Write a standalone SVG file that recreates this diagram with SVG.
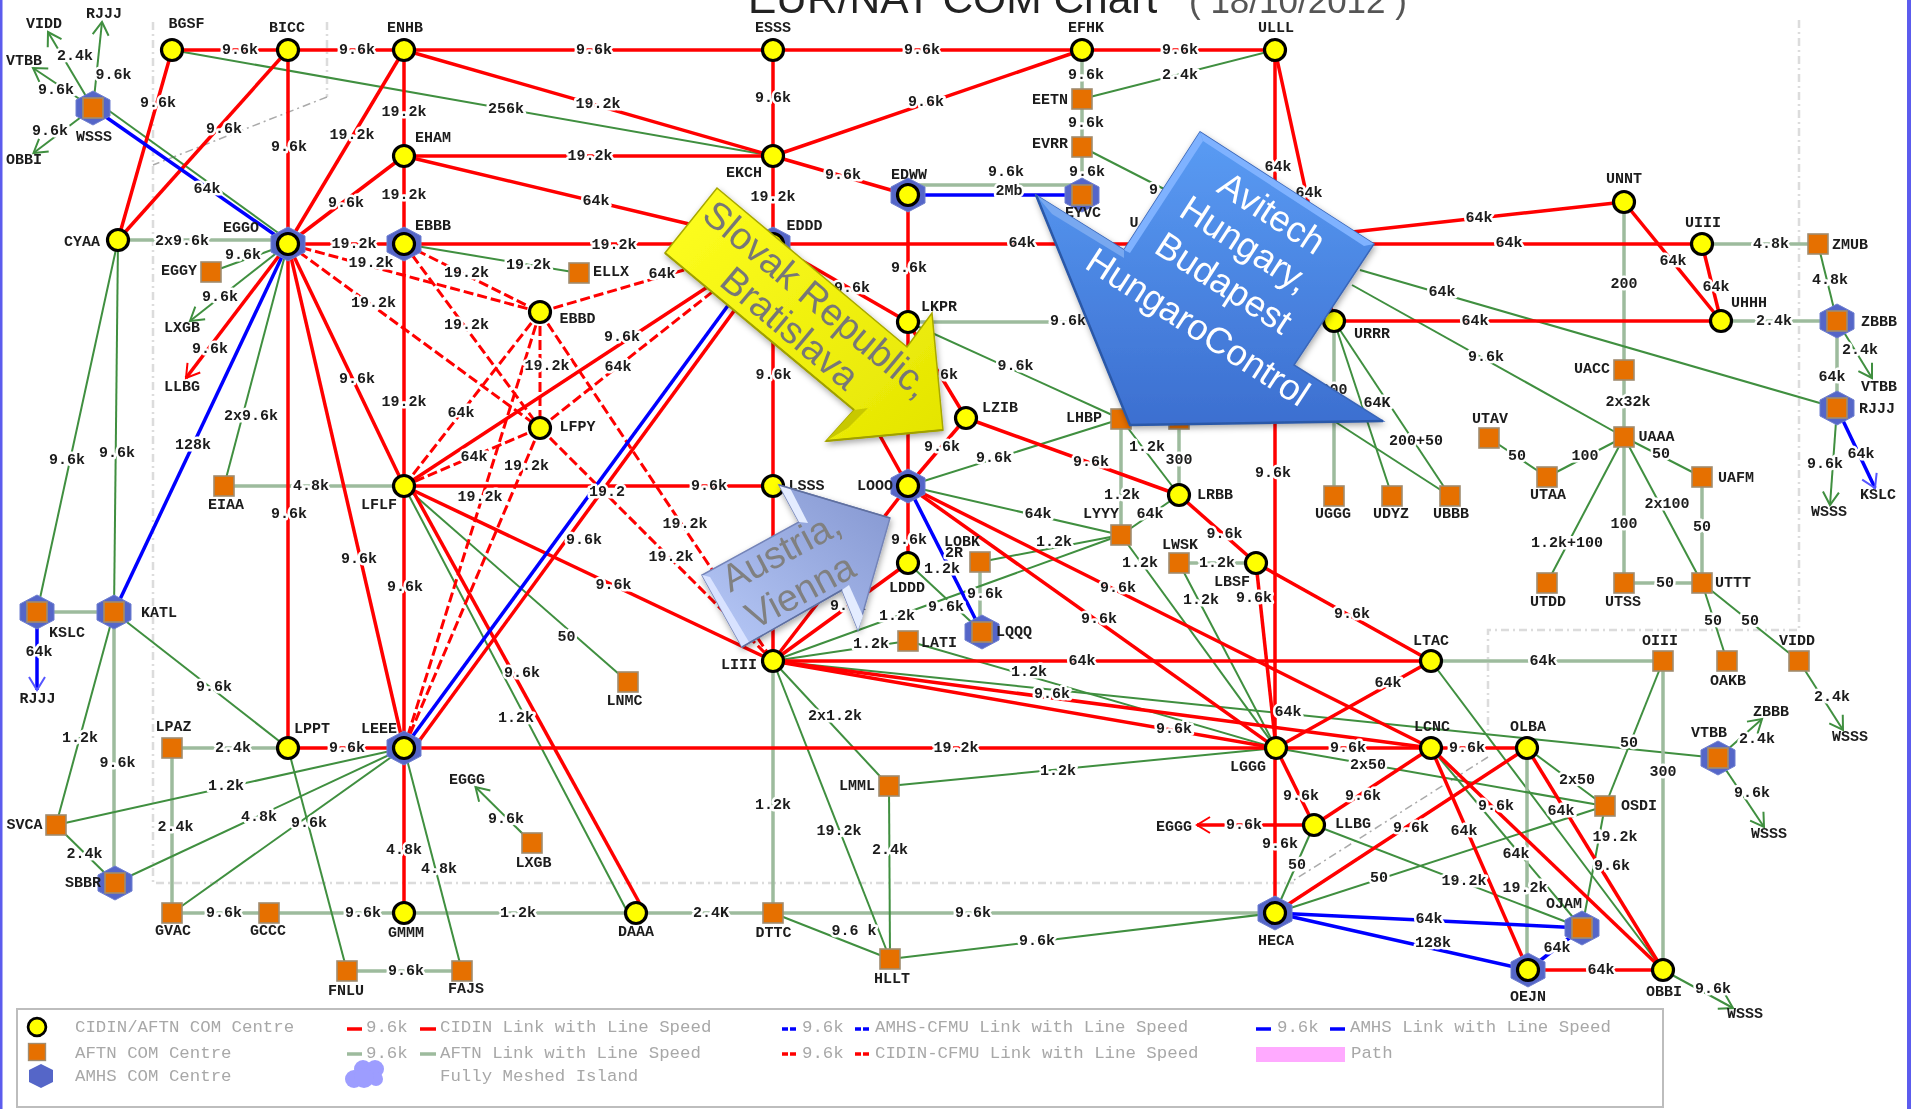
<svg xmlns="http://www.w3.org/2000/svg" width="1911" height="1109" viewBox="0 0 1911 1109">
<style>
text{font-family:"Liberation Mono","DejaVu Sans Mono",monospace}
.t,.n,.e{font-size:15px;font-weight:700;fill:#1c1c1c;text-anchor:middle;dominant-baseline:central}
.e{paint-order:stroke;stroke:#fff;stroke-width:5px;stroke-linejoin:round}
.l{font-size:17.4px;fill:#a8a8a8;dominant-baseline:central}
.r,.g,.h,.b,.d,.ar,.ag,.ab{fill:none}
.r,.ar{stroke:#f00;stroke-width:3.5}
.g,.ag{stroke:#3f8f3f;stroke-width:2}
.h{stroke:#9dbb9d;stroke-width:3.5}
.b,.ab{stroke:#00f;stroke-width:3.5}
.d{stroke:#f00;stroke-width:3;stroke-dasharray:10 4}
.ar{marker-end:url(#mr)}.ag{marker-end:url(#mg)}.ab{marker-end:url(#mb)}
.z{fill:none;stroke:#dcdcdc;stroke-width:2.5;stroke-dasharray:8 4 2 4}
.zd{fill:none;stroke:#aaa;stroke-width:1.5;stroke-dasharray:8 4 2 4}
.c{font-family:"Liberation Sans",Arial,sans-serif;font-size:38px;text-anchor:middle;dominant-baseline:central}
</style>
<defs>
<filter id="soft" filterUnits="userSpaceOnUse" x="0" y="0" width="1911" height="1109"><feGaussianBlur stdDeviation="0.55"/></filter>
<filter id="sh" x="-10%" y="-10%" width="120%" height="120%"><feDropShadow dx="1" dy="3" stdDeviation="3" flood-color="#000" flood-opacity=".35"/></filter>
<marker id="mr" markerUnits="userSpaceOnUse" markerWidth="18" markerHeight="20" refX="15" refY="10" orient="auto"><path d="M2 2L15 10L2 18" fill="none" stroke="#f00" stroke-width="2"/></marker>
<marker id="mg" markerUnits="userSpaceOnUse" markerWidth="18" markerHeight="20" refX="15" refY="10" orient="auto"><path d="M2 2L15 10L2 18" fill="none" stroke="#3f8f3f" stroke-width="2"/></marker>
<marker id="mb" markerUnits="userSpaceOnUse" markerWidth="18" markerHeight="20" refX="15" refY="10" orient="auto"><path d="M2 2L15 10L2 18" fill="none" stroke="#55f" stroke-width="2"/></marker>
<circle id="y" r="10.5" fill="#ff0" stroke="#000" stroke-width="3.2"/>
<rect id="s" x="-10" y="-10" width="20" height="20" fill="#e66f00" stroke="#a08c70" stroke-width="1.6"/>
<polygon id="x" points="0,-17 17,-8 17,8 0,17 -17,8 -17,-8" fill="#5566c8" stroke="#6f7fd0"/>
<linearGradient id="gy" x1="0" y1="0" x2="1" y2="1"><stop offset="0" stop-color="#ffff20"/><stop offset="1" stop-color="#e4e400"/></linearGradient>
<linearGradient id="gb" x1="0" y1="0" x2="0" y2="1"><stop offset="0" stop-color="#5a9cf4"/><stop offset="1" stop-color="#3c6fd0"/></linearGradient>
<linearGradient id="ga" x1="0" y1="1" x2="1" y2="0"><stop offset="0" stop-color="#b8caf8"/><stop offset="1" stop-color="#8496d0"/></linearGradient>
</defs>
<g filter="url(#soft)">
<rect width="1911" height="1109" fill="#fff"/>
<rect x="0" y="0" width="2.5" height="1109" fill="#5b5bee"/>
<rect x="1907" y="0" width="4" height="1109" fill="#5b5bee"/>
<g id="title">
<text x="748" y="13" font-size="42.500" fill="#222" style="font-family:'Liberation Sans',Arial,sans-serif">EUR/NAT COM Chart</text>
<text x="1189" y="13" font-size="35" fill="#555" style="font-family:'Liberation Sans',Arial,sans-serif">( 18/10/2012 )</text>
</g>
<g id="regions">
<path class="z" d="M153 22V883H1294M327 22V97M1799 20V630H1488V733"/>
<path class="zd" d="M327 97L153 165M1488 757L1294 880"/>
</g>
<g id="connectors">
<g id="aftn-links">
<path class="g" d="M172 50L773 156"/><path class="g" d="M108 110L288 240"/><path class="h" d="M118 240H288"/>
<path class="g" d="M288 244L211 272"/><path class="g" d="M288 244L224 486"/><path class="g" d="M118 240L114 612"/><path class="g" d="M118 240L37 612"/>
<path class="h" d="M37 612H114"/><path class="g" d="M114 612L56 825"/><path class="h" d="M114 612V883"/><path class="g" d="M114 612L288 748"/>
<path class="g" d="M404 244L579 273"/><path class="h" d="M224 486H404"/><path class="h" d="M172 748H288"/><path class="h" d="M172 748V913"/>
<path class="g" d="M56 825L404 748"/><path class="g" d="M56 825L115 883"/><path class="g" d="M115 883L404 748"/><path class="g" d="M172 913L404 748"/>
<path class="h" d="M172 913H773"/><path class="h" d="M773 913H1275"/><path class="g" d="M288 748L347 971"/><path class="g" d="M404 748L462 971"/><path class="h" d="M347 971H462"/>
<path class="g" d="M404 486L628 682"/><path class="g" d="M404 486L628 913"/>
<path class="h" d="M1082 50V195"/><path class="g" d="M1082 99L1275 50"/><path class="g" d="M1082 147L1250 233"/><path class="h" d="M908 185H1082"/>
<path class="h" d="M908 322H1150"/><path class="g" d="M908 322L1121 419"/><path class="g" d="M908 486L1121 419"/><path class="g" d="M908 486L1121 535"/>
<path class="g" d="M908 486L982 632"/><path class="g" d="M908 486L773 661"/><path class="g" d="M908 563L982 632"/><path class="h" d="M980 562V632"/>
<path class="g" d="M980 562L1121 535"/><path class="g" d="M773 661L1121 535"/><path class="h" d="M1121 419V535"/><path class="g" d="M1121 419L1179 495"/><path class="h" d="M1179 419V495"/><path class="g" d="M1179 495L1121 535"/>
<path class="g" d="M1121 535L1276 748"/><path class="g" d="M1179 563L1276 748"/><path class="h" d="M1179 563H1256"/>
<path class="g" d="M773 661L908 641"/><path class="g" d="M908 641L1276 748"/><path class="g" d="M773 661L1718 758"/><path class="h" d="M773 661V913"/><path class="g" d="M773 661L889 786"/><path class="g" d="M773 661L890 959"/>
<path class="g" d="M889 786L1276 748"/><path class="g" d="M889 786L890 959"/><path class="g" d="M773 913L890 959"/><path class="g" d="M890 959L1275 913"/>
<path class="h" d="M1624 202V437"/><path class="h" d="M1702 244H1818"/><path class="g" d="M1818 244L1837 321"/><path class="h" d="M1721 321H1837"/><path class="h" d="M1837 321V408"/>
<path class="g" d="M1360 270L1837 408"/><path class="g" d="M1352 285L1624 437"/><path class="h" d="M1334 321V496"/><path class="g" d="M1334 321L1392 496"/><path class="g" d="M1334 321L1450 496"/><path class="g" d="M1300 399L1450 496"/>
<path class="g" d="M1624 437L1547 477"/><path class="g" d="M1489 438L1547 477"/><path class="g" d="M1624 437L1702 477"/><path class="g" d="M1624 437L1547 583"/><path class="h" d="M1624 437V583"/><path class="g" d="M1624 437L1702 583"/>
<path class="h" d="M1702 477V583"/><path class="h" d="M1624 583H1702"/><path class="g" d="M1702 583L1727 661"/><path class="g" d="M1702 583L1799 661"/>
<path class="h" d="M1431 661H1663"/><path class="g" d="M1663 661L1605 806"/><path class="h" d="M1663 661V970"/><path class="g" d="M1431 661L1663 970"/>
<path class="g" d="M1431 748L1582 928"/><path class="h" d="M1527 748V970"/><path class="g" d="M1527 748L1605 806"/><path class="g" d="M1605 806L1275 913"/><path class="g" d="M1276 748L1605 806"/><path class="g" d="M1605 806L1582 928"/>
<path class="g" d="M1314 825L1275 913"/><path class="g" d="M1314 825L1582 928"/>
<path class="ag" d="M93 108L48 32"/><path class="ag" d="M93 108L102 22"/><path class="ag" d="M93 108L33 68"/><path class="ag" d="M93 108L33.500 153"/>
<path class="ag" d="M288 244L190 321"/><path class="ag" d="M532 843L475.500 787"/>
<path class="ag" d="M1837 321L1872 378"/><path class="ag" d="M1837 408L1830 505"/><path class="ag" d="M1799 661L1843 730"/><path class="ag" d="M1718 758L1762 719"/><path class="ag" d="M1718 758L1764 827"/><path class="ag" d="M1663 970L1733 1008"/>
</g>
<g id="cidin-links">
<path class="r" d="M172 50H1275"/><path class="r" d="M172 50L118 240"/><path class="r" d="M288 50L118 240"/><path class="r" d="M288 50V748"/><path class="r" d="M404 50L288 244"/><path class="r" d="M404 50V913"/>
<path class="r" d="M404 50L773 156"/><path class="r" d="M404 156H773"/><path class="r" d="M404 156L288 244"/><path class="r" d="M404 156L773 244"/><path class="r" d="M288 244H404"/><path class="r" d="M404 244H1702"/>
<path class="r" d="M1082 50L773 156"/><path class="r" d="M773 50V661"/><path class="r" d="M773 156L908 195"/><path class="r" d="M908 195V486"/><path class="r" d="M773 244L908 322"/><path class="r" d="M908 322L966 418"/>
<path class="r" d="M1275 50V913"/><path class="r" d="M1275 50L1334 321"/><path class="r" d="M1280 240L1624 202"/><path class="r" d="M1334 321H1721"/><path class="r" d="M1624 202L1721 321"/><path class="r" d="M1702 244L1721 321"/>
<path class="r" d="M288 244L404 486"/><path class="r" d="M288 244L404 748"/><path class="r" d="M404 486L773 244"/><path class="r" d="M404 486H773"/><path class="r" d="M404 486L773 661"/><path class="r" d="M408 482L645 913"/>
<path class="r" d="M414 748L783 244"/><path class="r" d="M288 748H1276"/><path class="r" d="M773 244L908 486"/><path class="r" d="M966 418L908 486"/><path class="r" d="M966 418L1179 495"/><path class="r" d="M1179 495L1256 563"/><path class="r" d="M1256 563L1431 661"/><path class="r" d="M1256 563L1276 748"/>
<path class="r" d="M908 486V563"/><path class="r" d="M908 486L773 661"/><path class="r" d="M908 563L773 661"/><path class="r" d="M908 486L1276 748"/><path class="r" d="M908 486L1431 748"/>
<path class="r" d="M773 661H1431"/><path class="r" d="M773 661L1431 748"/><path class="r" d="M773 661L1276 748"/><path class="r" d="M1276 748L1431 661"/><path class="r" d="M1276 748H1527"/><path class="r" d="M1431 748L1314 825"/><path class="r" d="M1276 748L1314 825"/>
<path class="r" d="M1527 748L1275 913"/><path class="r" d="M1431 748L1528 970"/><path class="r" d="M1431 748L1663 970"/><path class="r" d="M1527 748L1663 970"/><path class="r" d="M1528 970H1663"/>
<path class="ar" d="M288 244L186 378"/><path class="ar" d="M1314 825H1197"/>
</g>
<g id="cfmu-links">
<path class="d" d="M288 244L540 312"/><path class="d" d="M288 244L540 428"/><path class="d" d="M404 244L540 312"/><path class="d" d="M404 244L540 428"/><path class="d" d="M540 312V428"/><path class="d" d="M540 312L404 486"/><path class="d" d="M540 428L404 486"/>
<path class="d" d="M540 428L773 244"/><path class="d" d="M540 312L773 244"/><path class="d" d="M540 312L404 748"/><path class="d" d="M540 428L404 748"/><path class="d" d="M540 312L773 661"/><path class="d" d="M540 428L773 661"/>
</g>
<g id="amhs-links">
<path class="b" d="M93 108L288 244"/><path class="b" d="M288 244L114 612"/><path class="b" d="M404 748L773 244"/><path class="b" d="M908 195H1082"/><path class="b" d="M908 486L982 632"/>
<path class="b" d="M1275 913L1582 928"/><path class="b" d="M1275 913L1528 970"/><path class="b" d="M1582 928L1528 970"/>
<path class="ab" d="M1837 408L1875 488"/><path class="ab" d="M37 612V690"/>
</g>
<g id="link-labels">
<text class="e" x="240" y="50">9.6k</text><text class="e" x="357" y="50">9.6k</text><text class="e" x="594" y="50">9.6k</text><text class="e" x="922" y="50">9.6k</text><text class="e" x="1180" y="50">9.6k</text>
<text class="e" x="158" y="103">9.6k</text><text class="e" x="224" y="129">9.6k</text><text class="e" x="289" y="147">9.6k</text><text class="e" x="352" y="135">19.2k</text><text class="e" x="404" y="112">19.2k</text><text class="e" x="598" y="104">19.2k</text><text class="e" x="590" y="156">19.2k</text><text class="e" x="404" y="195">19.2k</text><text class="e" x="346" y="203">9.6k</text><text class="e" x="596" y="201">64k</text><text class="e" x="354" y="244">19.2k</text><text class="e" x="614" y="245">19.2k</text><text class="e" x="404" y="402">19.2k</text>
<text class="e" x="926" y="102">9.6k</text><text class="e" x="773" y="98">9.6k</text><text class="e" x="773" y="197">19.2k</text><text class="e" x="843" y="175">9.6k</text><text class="e" x="909" y="268">9.6k</text><text class="e" x="1022" y="243">64k</text><text class="e" x="1509" y="243">64k</text><text class="e" x="1278" y="167">64k</text><text class="e" x="1309" y="193">64k</text><text class="e" x="1479" y="218">64k</text><text class="e" x="1475" y="321">64k</text><text class="e" x="1673" y="261">64k</text><text class="e" x="1716" y="287">64k</text>
<text class="e" x="1624" y="284">200</text><text class="e" x="1628" y="402">2x32k</text><text class="e" x="1771" y="244">4.8k</text><text class="e" x="1830" y="280">4.8k</text><text class="e" x="1774" y="321">2.4k</text><text class="e" x="1832" y="377">64k</text><text class="e" x="1860" y="350">2.4k</text><text class="e" x="1825" y="464">9.6k</text><text class="e" x="1861" y="454">64k</text><text class="e" x="1442" y="292">64k</text><text class="e" x="1486" y="357">9.6k</text><text class="e" x="1334" y="390">200</text><text class="e" x="1377" y="403">64K</text><text class="e" x="1416" y="441">200+50</text>
<text class="e" x="1585" y="456">100</text><text class="e" x="1517" y="456">50</text><text class="e" x="1661" y="454">50</text><text class="e" x="1567" y="543">1.2k+100</text><text class="e" x="1624" y="524">100</text><text class="e" x="1667" y="504">2x100</text><text class="e" x="1702" y="527">50</text><text class="e" x="1665" y="583">50</text><text class="e" x="1713" y="621">50</text><text class="e" x="1750" y="621">50</text><text class="e" x="1832" y="697">2.4k</text><text class="e" x="1543" y="661">64k</text><text class="e" x="1629" y="743">50</text><text class="e" x="1663" y="772">300</text><text class="e" x="1757" y="739">2.4k</text><text class="e" x="1752" y="793">9.6k</text><text class="e" x="1561" y="811">64k</text>
<text class="e" x="1467" y="748">9.6k</text><text class="e" x="1348" y="748">9.6k</text><text class="e" x="1363" y="796">9.6k</text><text class="e" x="1301" y="796">9.6k</text><text class="e" x="1411" y="828">9.6k</text><text class="e" x="1464" y="831">64k</text><text class="e" x="1496" y="806">9.6k</text><text class="e" x="1516" y="854">64k</text><text class="e" x="1525" y="888">19.2k</text><text class="e" x="1577" y="780">2x50</text><text class="e" x="1379" y="878">50</text><text class="e" x="1368" y="765">2x50</text><text class="e" x="1615" y="837">19.2k</text><text class="e" x="1612" y="866">9.6k</text><text class="e" x="1280" y="844">9.6k</text><text class="e" x="1297" y="865">50</text><text class="e" x="1464" y="881">19.2k</text><text class="e" x="1244" y="825">9.6k</text>
<text class="e" x="1429" y="919">64k</text><text class="e" x="1433" y="943">128k</text><text class="e" x="1557" y="948">64k</text><text class="e" x="1601" y="970">64k</text><text class="e" x="1713" y="989">9.6k</text><text class="e" x="1388" y="683">64k</text><text class="e" x="1288" y="712">64k</text><text class="e" x="1352" y="614">9.6k</text><text class="e" x="1273" y="473">9.6k</text>
<text class="e" x="711" y="913">2.4K</text><text class="e" x="973" y="913">9.6k</text><text class="e" x="854" y="931">9.6 k</text><text class="e" x="1037" y="941">9.6k</text><text class="e" x="890" y="850">2.4k</text><text class="e" x="1058" y="771">1.2k</text><text class="e" x="839" y="831">19.2k</text><text class="e" x="835" y="716">2x1.2k</text><text class="e" x="773" y="805">1.2k</text><text class="e" x="956" y="748">19.2k</text>
<text class="e" x="347" y="748">9.6k</text><text class="e" x="233" y="748">2.4k</text><text class="e" x="309" y="823">9.6k</text><text class="e" x="404" y="850">4.8k</text><text class="e" x="439" y="869">4.8k</text><text class="e" x="518" y="913">1.2k</text><text class="e" x="224" y="913">9.6k</text><text class="e" x="363" y="913">9.6k</text><text class="e" x="406" y="971">9.6k</text><text class="e" x="175.500" y="827">2.4k</text><text class="e" x="226" y="786">1.2k</text><text class="e" x="259" y="817">4.8k</text><text class="e" x="84.500" y="854">2.4k</text><text class="e" x="117.500" y="763">9.6k</text><text class="e" x="80" y="738">1.2k</text><text class="e" x="214" y="687">9.6k</text><text class="e" x="39" y="652">64k</text>
<text class="e" x="117" y="453">9.6k</text><text class="e" x="67" y="460">9.6k</text><text class="e" x="193" y="445">128k</text><text class="e" x="251" y="416">2x9.6k</text><text class="e" x="311" y="486">4.8k</text><text class="e" x="289" y="514">9.6k</text><text class="e" x="359" y="559">9.6k</text><text class="e" x="357" y="379">9.6k</text><text class="e" x="182" y="241">2x9.6k</text><text class="e" x="207" y="189">64k</text><text class="e" x="243" y="255">9.6k</text><text class="e" x="220" y="297">9.6k</text><text class="e" x="210" y="349">9.6k</text><text class="e" x="506" y="109">256k</text>
<text class="e" x="371" y="263">19.2k</text><text class="e" x="373.500" y="303">19.2k</text><text class="e" x="466.500" y="273">19.2k</text><text class="e" x="466.500" y="325">19.2k</text><text class="e" x="528.500" y="265">19.2k</text><text class="e" x="547" y="366">19.2k</text><text class="e" x="461" y="413">64k</text><text class="e" x="474" y="457">64k</text><text class="e" x="622" y="337">9.6k</text><text class="e" x="618" y="367">64k</text><text class="e" x="662" y="274">64k</text><text class="e" x="607" y="492">19.2</text><text class="e" x="709" y="486">9.6k</text><text class="e" x="613.500" y="585">9.6k</text><text class="e" x="405" y="587">9.6k</text><text class="e" x="522" y="673">9.6k</text><text class="e" x="566.500" y="637">50</text><text class="e" x="516" y="718">1.2k</text><text class="e" x="584" y="540">9.6k</text><text class="e" x="526.500" y="466">19.2k</text><text class="e" x="480" y="497">19.2k</text><text class="e" x="685" y="524">19.2k</text><text class="e" x="671" y="557">19.2k</text>
<text class="e" x="773.500" y="375">9.6k</text><text class="e" x="852" y="288">9.6k</text><text class="e" x="1068" y="321">9.6k</text><text class="e" x="1015.500" y="366">9.6k</text><text class="e" x="940" y="375">9.6k</text><text class="e" x="942" y="447">9.6k</text><text class="e" x="1091" y="462">9.6k</text><text class="e" x="994" y="458">9.6k</text><text class="e" x="1038" y="514">64k</text><text class="e" x="909" y="540">9.6k</text><text class="e" x="954" y="553">2R</text><text class="e" x="942" y="569">1.2k</text><text class="e" x="946" y="607">9.6k</text><text class="e" x="985" y="594">9.6k</text><text class="e" x="848" y="606">9.6k</text><text class="e" x="1099" y="619">9.6k</text><text class="e" x="1118" y="588">9.6k</text><text class="e" x="1054" y="542">1.2k</text><text class="e" x="897" y="616">1.2k</text><text class="e" x="871" y="644">1.2k</text><text class="e" x="1029" y="672">1.2k</text><text class="e" x="1082" y="661">64k</text><text class="e" x="1174" y="729">9.6k</text><text class="e" x="1052" y="694">9.6k</text>
<text class="e" x="1147" y="447">1.2k</text><text class="e" x="1122" y="495">1.2k</text><text class="e" x="1179" y="460">300</text><text class="e" x="1150" y="514">64k</text><text class="e" x="1224.500" y="534">9.6k</text><text class="e" x="1217" y="563">1.2k</text><text class="e" x="1254" y="598">9.6k</text><text class="e" x="1140" y="563">1.2k</text><text class="e" x="1201" y="600">1.2k</text>
<text class="e" x="75" y="56">2.4k</text><text class="e" x="113.500" y="75">9.6k</text><text class="e" x="56" y="90">9.6k</text><text class="e" x="50" y="131">9.6k</text><text class="e" x="506" y="819">9.6k</text>
<text class="e" x="1086" y="75">9.6k</text><text class="e" x="1086" y="123">9.6k</text><text class="e" x="1087" y="172">9.6k</text><text class="e" x="1180" y="75">2.4k</text><text class="e" x="1167" y="190">9.6k</text><text class="e" x="1006" y="172">9.6k</text><text class="e" x="1009" y="191">2Mb</text>
</g>
</g>
<g id="nodes">
<g id="BGSF"><use href="#y" x="172" y="50"/><text class="n" x="186.500" y="24">BGSF</text></g>
<g id="BICC"><use href="#y" x="288" y="50"/><text class="n" x="287" y="28">BICC</text></g>
<g id="ENHB"><use href="#y" x="404" y="50"/><text class="n" x="405" y="28">ENHB</text></g>
<g id="EHAM"><use href="#y" x="404" y="156"/><text class="n" x="433" y="138">EHAM</text></g>
<g id="CYAA"><use href="#y" x="118" y="240"/><text class="n" x="82" y="242">CYAA</text></g>
<g id="ESSS"><use href="#y" x="773" y="50"/><text class="n" x="773" y="28">ESSS</text></g>
<g id="EFHK"><use href="#y" x="1082" y="50"/><text class="n" x="1086" y="28">EFHK</text></g>
<g id="EKCH"><use href="#y" x="773" y="156"/><text class="n" x="744" y="173">EKCH</text></g>
<g id="LKPR"><use href="#y" x="908" y="322"/><text class="n" x="939" y="307">LKPR</text></g>
<g id="ULLL"><use href="#y" x="1275" y="50"/><text class="n" x="1276" y="28">ULLL</text></g>
<g id="UNNT"><use href="#y" x="1624" y="202"/><text class="n" x="1624" y="179">UNNT</text></g>
<g id="UIII"><use href="#y" x="1702" y="244"/><text class="n" x="1703" y="223">UIII</text></g>
<g id="UHHH"><use href="#y" x="1721" y="321"/><text class="n" x="1749" y="303">UHHH</text></g>
<g id="URRR"><use href="#y" x="1334" y="321"/><text class="n" x="1372" y="334">URRR</text></g>
<g id="LFLF"><use href="#y" x="404" y="486"/><text class="n" x="379" y="505">LFLF</text></g>
<g id="LFPY"><use href="#y" x="540" y="428"/><text class="n" x="577.500" y="427">LFPY</text></g>
<g id="EBBD"><use href="#y" x="540" y="312"/><text class="n" x="577.500" y="319">EBBD</text></g>
<g id="LPPT"><use href="#y" x="288" y="748"/><text class="n" x="312" y="729">LPPT</text></g>
<g id="LZIB"><use href="#y" x="966" y="418"/><text class="n" x="1000" y="408">LZIB</text></g>
<g id="LSSS"><use href="#y" x="773" y="486"/><text class="n" x="806.500" y="486">LSSS</text></g>
<g id="LRBB"><use href="#y" x="1179" y="495"/><text class="n" x="1215" y="495">LRBB</text></g>
<g id="LBSF"><use href="#y" x="1256" y="563"/><text class="n" x="1232" y="582">LBSF</text></g>
<g id="LDDD"><use href="#y" x="908" y="563"/><text class="n" x="907" y="588">LDDD</text></g>
<g id="LIII"><use href="#y" x="773" y="661"/><text class="n" x="739" y="665">LIII</text></g>
<g id="LTAC"><use href="#y" x="1431" y="661"/><text class="n" x="1431" y="641">LTAC</text></g>
<g id="LCNC"><use href="#y" x="1431" y="748"/><text class="n" x="1432" y="727">LCNC</text></g>
<g id="OLBA"><use href="#y" x="1527" y="748"/><text class="n" x="1528" y="727">OLBA</text></g>
<g id="LGGG"><use href="#y" x="1276" y="748"/><text class="n" x="1248" y="767">LGGG</text></g>
<g id="LLBG"><use href="#y" x="1314" y="825"/><text class="n" x="1353" y="824">LLBG</text></g>
<g id="GMMM"><use href="#y" x="404" y="913"/><text class="n" x="406" y="933">GMMM</text></g>
<g id="DAAA"><use href="#y" x="636" y="913"/><text class="n" x="636" y="932">DAAA</text></g>
<g id="OBBI"><use href="#y" x="1663" y="970"/><text class="n" x="1664" y="992">OBBI</text></g>
<g id="EGGO"><use href="#x" x="288" y="244"/><use href="#y" x="288" y="244"/><text class="n" x="241" y="228">EGGO</text></g>
<g id="EBBB"><use href="#x" x="404" y="244"/><use href="#y" x="404" y="244"/><text class="n" x="433" y="226">EBBB</text></g>
<g id="EDWW"><use href="#x" x="908" y="195"/><use href="#y" x="908" y="195"/><text class="n" x="909" y="175">EDWW</text></g>
<g id="EDDD"><use href="#x" x="773" y="244"/><use href="#y" x="773" y="244"/><text class="n" x="804.500" y="226">EDDD</text></g>
<g id="LEEE"><use href="#x" x="404" y="748"/><use href="#y" x="404" y="748"/><text class="n" x="379" y="729">LEEE</text></g>
<g id="LOOO"><use href="#x" x="908" y="486"/><use href="#y" x="908" y="486"/><text class="n" x="875" y="486">LOOO</text></g>
<g id="HECA"><use href="#x" x="1275" y="913"/><use href="#y" x="1275" y="913"/><text class="n" x="1276" y="941">HECA</text></g>
<g id="OEJN"><use href="#x" x="1528" y="970"/><use href="#y" x="1528" y="970"/><text class="n" x="1528" y="997">OEJN</text></g>
<g id="EGGY"><use href="#s" x="211" y="272"/><text class="n" x="179" y="271">EGGY</text></g>
<g id="ELLX"><use href="#s" x="579" y="273"/><text class="n" x="611" y="272">ELLX</text></g>
<g id="EETN"><use href="#s" x="1082" y="99"/><text class="n" x="1050" y="100">EETN</text></g>
<g id="EVRR"><use href="#s" x="1082" y="147"/><text class="n" x="1050" y="144">EVRR</text></g>
<g id="ZMUB"><use href="#s" x="1818" y="244"/><text class="n" x="1850" y="245">ZMUB</text></g>
<g id="UACC"><use href="#s" x="1624" y="370"/><text class="n" x="1592" y="369">UACC</text></g>
<g id="UAAA"><use href="#s" x="1624" y="437"/><text class="n" x="1656.500" y="437">UAAA</text></g>
<g id="UTAV"><use href="#s" x="1489" y="438"/><text class="n" x="1490" y="419">UTAV</text></g>
<g id="UTAA"><use href="#s" x="1547" y="477"/><text class="n" x="1548" y="495">UTAA</text></g>
<g id="UAFM"><use href="#s" x="1702" y="477"/><text class="n" x="1736" y="478">UAFM</text></g>
<g id="UGGG"><use href="#s" x="1334" y="496"/><text class="n" x="1333" y="514">UGGG</text></g>
<g id="UDYZ"><use href="#s" x="1392" y="496"/><text class="n" x="1391" y="514">UDYZ</text></g>
<g id="UBBB"><use href="#s" x="1450" y="496"/><text class="n" x="1451" y="514">UBBB</text></g>
<g id="EIAA"><use href="#s" x="224" y="486"/><text class="n" x="226" y="505">EIAA</text></g>
<g id="LNMC"><use href="#s" x="628" y="682"/><text class="n" x="624.500" y="701">LNMC</text></g>
<g id="LPAZ"><use href="#s" x="172" y="748"/><text class="n" x="173.500" y="727">LPAZ</text></g>
<g id="LHBP"><use href="#s" x="1121" y="419"/><text class="n" x="1084" y="418">LHBP</text></g>
<g id="hidden-node"><use href="#s" x="1179" y="419"/></g>
<g id="LYYY"><use href="#s" x="1121" y="535"/><text class="n" x="1101" y="514">LYYY</text></g>
<g id="LWSK"><use href="#s" x="1179" y="563"/><text class="n" x="1180" y="545">LWSK</text></g>
<g id="LOBK"><use href="#s" x="980" y="562"/><text class="n" x="962" y="542">LOBK</text></g>
<g id="LATI"><use href="#s" x="908" y="641"/><text class="n" x="939" y="643">LATI</text></g>
<g id="OIII"><use href="#s" x="1663" y="661"/><text class="n" x="1660" y="641">OIII</text></g>
<g id="OAKB"><use href="#s" x="1727" y="661"/><text class="n" x="1728" y="681">OAKB</text></g>
<g id="VIDD"><use href="#s" x="1799" y="661"/><text class="n" x="1797" y="641">VIDD</text></g>
<g id="OSDI"><use href="#s" x="1605" y="806"/><text class="n" x="1639" y="806">OSDI</text></g>
<g id="UTDD"><use href="#s" x="1547" y="583"/><text class="n" x="1548" y="602">UTDD</text></g>
<g id="UTSS"><use href="#s" x="1624" y="583"/><text class="n" x="1623" y="602">UTSS</text></g>
<g id="UTTT"><use href="#s" x="1702" y="583"/><text class="n" x="1733" y="583">UTTT</text></g>
<g id="SVCA"><use href="#s" x="56" y="825"/><text class="n" x="24.500" y="825">SVCA</text></g>
<g id="GVAC"><use href="#s" x="172" y="913"/><text class="n" x="173" y="931">GVAC</text></g>
<g id="GCCC"><use href="#s" x="269" y="913"/><text class="n" x="268" y="931">GCCC</text></g>
<g id="FNLU"><use href="#s" x="347" y="971"/><text class="n" x="346" y="991">FNLU</text></g>
<g id="FAJS"><use href="#s" x="462" y="971"/><text class="n" x="466" y="989">FAJS</text></g>
<g id="LXGB"><use href="#s" x="532" y="843"/><text class="n" x="533.500" y="863">LXGB</text></g>
<g id="DTTC"><use href="#s" x="773" y="913"/><text class="n" x="773.500" y="933">DTTC</text></g>
<g id="HLLT"><use href="#s" x="890" y="959"/><text class="n" x="892" y="979">HLLT</text></g>
<g id="LMML"><use href="#s" x="889" y="786"/><text class="n" x="857" y="786">LMML</text></g>
<g id="WSSS"><use href="#x" x="93" y="108"/><use href="#s" x="93" y="108"/><text class="n" x="94" y="137">WSSS</text></g>
<g id="KSLC"><use href="#x" x="37" y="612"/><use href="#s" x="37" y="612"/><text class="n" x="67" y="633">KSLC</text></g>
<g id="KATL"><use href="#x" x="114" y="612"/><use href="#s" x="114" y="612"/><text class="n" x="159" y="613">KATL</text></g>
<g id="SBBR"><use href="#x" x="115" y="883"/><use href="#s" x="115" y="883"/><text class="n" x="83" y="883">SBBR</text></g>
<g id="ZBBB"><use href="#x" x="1837" y="321"/><use href="#s" x="1837" y="321"/><text class="n" x="1879" y="322">ZBBB</text></g>
<g id="RJJJ"><use href="#x" x="1837" y="408"/><use href="#s" x="1837" y="408"/><text class="n" x="1877" y="409">RJJJ</text></g>
<g id="EYVC"><use href="#x" x="1082" y="195"/><use href="#s" x="1082" y="195"/><text class="n" x="1083" y="213">EYVC</text></g>
<g id="LQQQ"><use href="#x" x="982" y="632"/><use href="#s" x="982" y="632"/><text class="n" x="1014" y="632">LQQQ</text></g>
<g id="VTBB"><use href="#x" x="1718" y="758"/><use href="#s" x="1718" y="758"/><text class="n" x="1709" y="733">VTBB</text></g>
<g id="OJAM"><use href="#x" x="1582" y="928"/><use href="#s" x="1582" y="928"/><text class="n" x="1564" y="904">OJAM</text></g>
</g>
<g id="destinations">
<text class="t" x="44" y="24">VIDD</text><text class="t" x="104" y="14">RJJJ</text><text class="t" x="24" y="61">VTBB</text><text class="t" x="24" y="160">OBBI</text><text class="t" x="182" y="328">LXGB</text><text class="t" x="182" y="387">LLBG</text><text class="t" x="37.500" y="699">RJJJ</text><text class="t" x="467" y="780">EGGG</text><text class="t" x="1174" y="827">EGGG</text><text class="t" x="1879" y="387">VTBB</text><text class="t" x="1829" y="512">WSSS</text><text class="t" x="1878" y="495">KSLC</text><text class="t" x="1850" y="737">WSSS</text><text class="t" x="1771" y="712">ZBBB</text><text class="t" x="1769" y="834">WSSS</text><text class="t" x="1745" y="1014">WSSS</text><text class="t" x="1134" y="223">U</text>
</g>
<g id="legend">
<rect x="17" y="1009" width="1646" height="98" fill="#fff" stroke="#bdbdbd" stroke-width="2"/>
<use href="#y" transform="translate(37 1027) scale(.85)"/><use href="#s" transform="translate(37 1052) scale(.85)"/>
<polygon points="41,1064 53,1070 53,1082 41,1088 29,1082 29,1070" fill="#5566c8"/>
<text class="l" x="75" y="1027">CIDIN/AFTN COM Centre</text><text class="l" x="75" y="1053">AFTN COM Centre</text><text class="l" x="75" y="1076">AMHS COM Centre</text>
<path d="M347 1029H362M420 1029H436" stroke="#f00" stroke-width="3.500" fill="none"/><text class="l" x="366" y="1027">9.6k</text><text class="l" x="440" y="1027">CIDIN Link with Line Speed</text>
<path d="M347 1054H362M420 1054H436" stroke="#9dbb9d" stroke-width="3.500" fill="none"/><text class="l" x="366" y="1053">9.6k</text><text class="l" x="440" y="1053">AFTN Link with Line Speed</text>
<g fill="#9d9dff"><circle cx="354" cy="1079" r="9"/><circle cx="363" cy="1069" r="9"/><circle cx="375" cy="1069" r="9"/><circle cx="376" cy="1079" r="7"/><circle cx="364" cy="1078" r="10"/></g><text class="l" x="440" y="1076">Fully Meshed Island</text>
<path d="M782 1029H798M855 1029H871" stroke="#00f" stroke-width="3.500" stroke-dasharray="6 2" fill="none"/><text class="l" x="802" y="1027">9.6k</text><text class="l" x="875" y="1027">AMHS-CFMU Link with Line Speed</text>
<path d="M782 1054H798M855 1054H871" stroke="#f00" stroke-width="3.500" stroke-dasharray="6 2" fill="none"/><text class="l" x="802" y="1053">9.6k</text><text class="l" x="875" y="1053">CIDIN-CFMU Link with Line Speed</text>
<path d="M1256 1029H1271M1330 1029H1345" stroke="#00f" stroke-width="3.500" fill="none"/><text class="l" x="1277" y="1027">9.6k</text><text class="l" x="1350" y="1027">AMHS Link with Line Speed</text>
<rect x="1256" y="1047" width="89" height="15" fill="#ffaaff"/><text class="l" x="1351" y="1053">Path</text>
</g>
<g id="callouts">
<g id="callout-slovakia">
<polygon points="717,188 907,347 932,313 943,430 826,441 854,410 665,253" fill="url(#gy)" stroke="#a8a800" stroke-width="1.500" filter="url(#sh)"/>
<polygon points="826,441 854,410 868,408 848,428" fill="#c8c800"/>
<path d="M826 441L943 430M665 253L854 410" fill="none" stroke="#a0a000" stroke-width="2"/>
<text class="c" fill="#777" transform="translate(817 299) rotate(40)">Slovak Republic,</text>
<text class="c" fill="#777" transform="translate(790 328) rotate(40)">Bratislava</text>
</g>
<g id="callout-hungary">
<polygon points="1200,132 1374,244 1294,365 1383,421 1130,425 1036,195 1124,250" fill="url(#gb)" stroke="#3a66b8" stroke-width="1.500" filter="url(#sh)"/>
<polygon points="1200,132 1124,250 1130,253 1203,141" fill="#7fb2ff"/>
<polygon points="1200,132 1374,244 1364,246 1203,141" fill="#7fb2ff"/>
<polygon points="1036,195 1124,250 1124,258 1052,214" fill="#78a8f0"/>
<path d="M1383 421L1130 425L1036 195" fill="none" stroke="#2c59a8" stroke-width="2.500"/>
<text class="c" fill="#fff" style="font-size:36.500px" transform="translate(1272 213) rotate(33)">Avitech</text>
<text class="c" fill="#fff" style="font-size:36.500px" transform="translate(1245 244) rotate(33)">Hungary,</text>
<text class="c" fill="#fff" style="font-size:36.500px" transform="translate(1224 283) rotate(33)">Budapest</text>
<text class="c" fill="#fff" style="font-size:36.500px" transform="translate(1198 327) rotate(33)">HungaroControl</text>
</g>
<g id="callout-austria">
<polygon points="779,485 890,518 858,630 842,590 742,647 702,575 799,522" fill="url(#ga)" stroke="#7484b8" stroke-width="1.500" filter="url(#sh)"/>
<polygon points="779,485 799,522 808,523 790,488" fill="#e4ecff"/>
<polygon points="702,575 742,647 749,642 710,577" fill="#d8e2ff"/>
<polygon points="842,590 858,630 863,616 849,585" fill="#e4ecff"/>
<path d="M742 647L842 590M779 485L890 518" fill="none" stroke="#5f6f9f" stroke-width="1.500"/>
<text class="c" fill="#808080" transform="translate(781 551) rotate(-28)">Austria,</text>
<text class="c" fill="#808080" transform="translate(800 591) rotate(-28)">Vienna</text>
</g>
</g>
</g>
</svg>
